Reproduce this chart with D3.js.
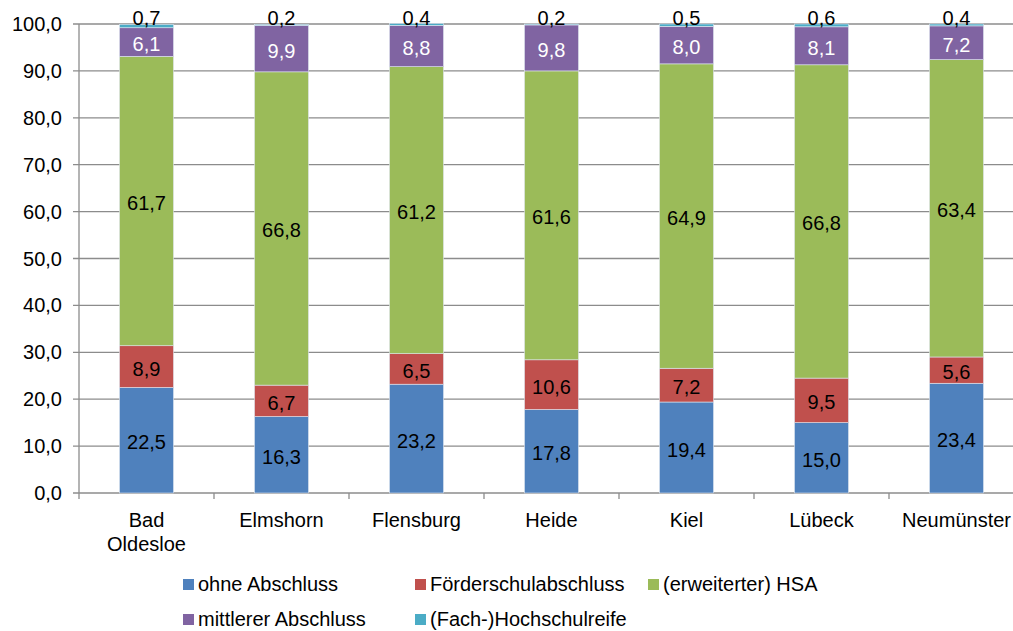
<!DOCTYPE html>
<html>
<head>
<meta charset="utf-8">
<script src="https://cdn.jsdelivr.net/npm/d3@7"></script>
<style>
  body { margin: 0; background: #fff; }
  text { font-family: "Liberation Sans", Arial, sans-serif; }
</style>
</head>
<body>
<script>
var width = 1013,
    height = 631;

var categories = ["Bad Oldesloe", "Elmshorn", "Flensburg", "Heide", "Kiel", "Lübeck", "Neumünster"];
var seriesNames = ["ohne Abschluss", "Förderschulabschluss", "(erweiterter) HSA", "mittlerer Abschluss", "(Fach-)Hochschulreife"];
var ohne = [22.5, 16.3, 23.2, 17.8, 19.4, 15.0, 23.4];
var foerder = [8.9, 6.7, 6.5, 10.6, 7.2, 9.5, 5.6];
var hsa = [61.7, 66.8, 61.2, 61.6, 64.9, 66.8, 63.4];
var mittlerer = [6.1, 9.9, 8.8, 9.8, 8.0, 8.1, 7.2];
var hochschul = [0.7, 0.2, 0.4, 0.2, 0.5, 0.6, 0.4];
var yTicks = [0, 10, 20, 30, 40, 50, 60, 70, 80, 90, 100];

var colors = ["#4F81BD", "#C0504D", "#9BBB59", "#8064A2", "#4BACC6"];
var labelColors = ["#000", "#000", "#000", "#fff", "#000"];

var series = [ohne, foerder, hsa, mittlerer, hochschul];

var rows = categories.map(function(c, i) {
  var r = { name: c };
  seriesNames.forEach(function(s, j) { r[s] = series[j][i]; });
  return r;
});

var stacked = d3.stack().keys(seriesNames)(rows);

var svg = d3.select("body").append("svg")
    .attr("width", width)
    .attr("height", height);

var x = d3.scaleBand()
    .domain(categories)
    .range([79, 79 + 135 * 7])
    .paddingInner(0.6)
    .paddingOuter(0.3);

var y = d3.scaleLinear()
    .domain([0, 100])
    .range([493, 24]);

var fmt = function(v) { return d3.format(".1f")(v).replace(".", ","); };

// gridlines
svg.append("g").selectAll("line")
  .data(yTicks)
  .enter().append("line")
    .attr("x1", 73)
    .attr("x2", width)
    .attr("y1", function(d) { return y(d); })
    .attr("y2", function(d) { return y(d); })
    .attr("stroke", "#8c8c8c")
    .attr("stroke-width", 1.3);

// y axis labels
svg.append("g").selectAll("text")
  .data(yTicks)
  .enter().append("text")
    .attr("x", 62)
    .attr("y", function(d) { return y(d); })
    .attr("dy", "0.35em")
    .attr("text-anchor", "end")
    .style("font-size", "20px")
    .attr("fill", "#000")
    .text(fmt);

// y axis line
svg.append("line")
  .attr("x1", 79).attr("x2", 79)
  .attr("y1", y(100)).attr("y2", y(0))
  .attr("stroke", "#8c8c8c")
  .attr("stroke-width", 1.3);

// x ticks
var tickX = d3.range(categories.length + 1).map(function(i) { return 79 + i * 135; });
svg.append("g").selectAll("line")
  .data(tickX)
  .enter().append("line")
    .attr("x1", function(d) { return d; })
    .attr("x2", function(d) { return d; })
    .attr("y1", y(0))
    .attr("y2", y(0) + 6)
    .attr("stroke", "#8c8c8c")
    .attr("stroke-width", 1.3);

// bars
var layer = svg.append("g").selectAll("g")
  .data(stacked)
  .enter().append("g")
    .attr("fill", function(d, i) { return colors[i]; });

layer.selectAll("rect")
  .data(function(d) { return d; })
  .enter().append("rect")
    .attr("x", function(d) { return x(d.data.name); })
    .attr("width", x.bandwidth())
    .attr("y", function(d) { return y(d[1]); })
    .attr("height", function(d) { return y(d[0]) - y(d[1]); })
    .attr("stroke", "#dfe6f0")
    .attr("stroke-width", 0.6);

// value labels
stacked.forEach(function(s, j) {
  svg.append("g").selectAll("text")
    .data(s)
    .enter().append("text")
      .attr("x", function(d) { return x(d.data.name) + x.bandwidth() / 2; })
      .attr("y", function(d) {
        if (j === 4) return y(d[1]) + 1;
        return (y(d[0]) + y(d[1])) / 2 + 2;
      })
      .attr("dy", j === 4 ? "0" : "0.35em")
      .attr("text-anchor", "middle")
      .style("font-size", "20px")
      .attr("fill", labelColors[j])
      .text(function(d) { return fmt(d[1] - d[0]); });
});

// category labels
var catLabels = svg.append("g").selectAll("text")
  .data(categories)
  .enter().append("text")
    .attr("x", function(d) { return x(d) + x.bandwidth() / 2; })
    .attr("y", 527)
    .attr("text-anchor", "middle")
    .style("font-size", "20px")
    .attr("fill", "#000");

catLabels.each(function(d) {
  var parts = d === "Bad Oldesloe" ? ["Bad", "Oldesloe"] : [d];
  var t = d3.select(this);
  parts.forEach(function(p, k) {
    t.append("tspan")
      .attr("x", x(d) + x.bandwidth() / 2)
      .attr("dy", k === 0 ? 0 : 24)
      .text(p);
  });
});

// legend
var legendPos = [[183, 584], [415, 584], [648, 584], [183, 619], [415, 619]];
var legend = svg.append("g").selectAll("g")
  .data(seriesNames)
  .enter().append("g")
    .attr("transform", function(d, i) { return "translate(" + legendPos[i][0] + "," + legendPos[i][1] + ")"; });

legend.append("rect")
  .attr("x", 0)
  .attr("y", -5)
  .attr("width", 11)
  .attr("height", 11)
  .attr("fill", function(d, i) { return colors[i]; });

legend.append("text")
  .attr("x", 15)
  .attr("y", 0)
  .attr("dy", "0.35em")
  .style("font-size", "20px")
  .attr("fill", "#000")
  .text(function(d) { return d; });
</script>
</body>
</html>
